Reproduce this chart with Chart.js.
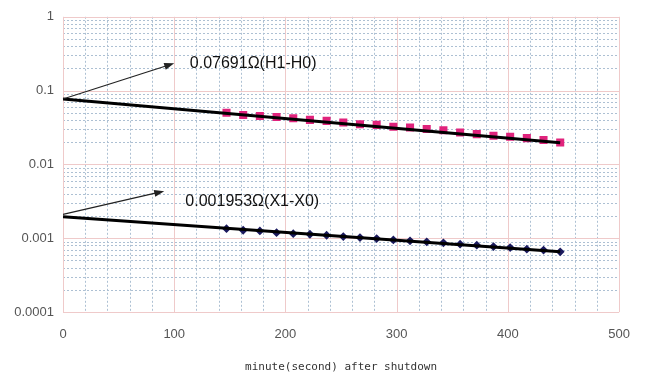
<!DOCTYPE html>
<html>
<head>
<meta charset="utf-8">
<script src="https://cdn.jsdelivr.net/npm/chart.js@4/dist/chart.umd.min.js"></script>
<style>
  html, body { margin: 0; padding: 0; background: #fff; }
  #wrap { width: 645px; height: 376px; }
</style>
</head>
<body>
<div id="wrap"><canvas id="c" width="645" height="376"></canvas></div>
<script>
// seconds after shutdown
const times = [147, 162, 177, 192, 207, 222, 237, 252, 267, 282, 297,
               312, 327, 342, 357, 372, 387, 402, 417, 432, 447];
// H1-H0 resistance (ohm)
const hValues = [0.0502, 0.0468, 0.0454, 0.0440, 0.0422, 0.0401, 0.0389, 0.0369,
                 0.0351, 0.0343, 0.0323, 0.0316, 0.0301, 0.0291, 0.0270, 0.0257,
                 0.0244, 0.0237, 0.0227, 0.0214, 0.0198];
// X1-X0 resistance (ohm)
const xValues = [0.001346, 0.001282, 0.001254, 0.001189, 0.001153, 0.001132, 0.001097,
                 0.001051, 0.001019, 0.000988, 0.000948, 0.000920, 0.000892, 0.000865,
                 0.000831, 0.000805, 0.000771, 0.000747, 0.000711, 0.000690, 0.000654];
// exponential trend lines, extrapolated back to t = 0
const hTrend = [{x: 0, y: 0.07691}, {x: 447, y: 0.0197}];
const xTrend = [{x: 0, y: 0.001953}, {x: 447, y: 0.000655}];

const yTicks = [0.0001, 0.001, 0.01, 0.1, 1];
const xTicks = [0, 100, 200, 300, 400, 500];

// callouts: arrow from -> to, label anchor (data coords)
const callouts = [
    {text: '0.07691\u03A9(H1-H0)', from: [0, 0.07691], to: [100, 0.234], at: [114, 0.234]},
    {text: '0.001953\u03A9(X1-X0)', from: [0, 0.0021], to: [91, 0.00434], at: [110, 0.00318]}
];

const gridPlugin = {
    id: 'paperGrid',
    beforeDatasetsDraw(chart) {
        const {ctx, chartArea: a, scales: {x, y}} = chart;
        ctx.save();
        ctx.fillStyle = '#ffffff';
        ctx.fillRect(a.left, a.top, a.right - a.left, a.bottom - a.top);
        // minor dashed lines
        ctx.strokeStyle = '#adc0d3';
        ctx.lineWidth = 1;
        ctx.setLineDash([2, 2]);
        ctx.beginPath();
        for (let v = 20; v < 500; v += 20) {
            if (v % 100 === 0) continue;
            const px = Math.round(x.getPixelForValue(v)) + 0.5;
            ctx.moveTo(px, a.top); ctx.lineTo(px, a.bottom);
        }
        for (let e = -4; e < 0; e++) {
            for (let k = 2; k <= 9; k++) {
                const py = Math.round(y.getPixelForValue(k * Math.pow(10, e))) + 0.5;
                ctx.moveTo(a.left, py); ctx.lineTo(a.right, py);
            }
        }
        ctx.stroke();
        // major lines
        ctx.setLineDash([]);
        ctx.strokeStyle = '#efcaca';
        ctx.beginPath();
        xTicks.forEach(v => {
            const px = Math.round(x.getPixelForValue(v)) + 0.5;
            ctx.moveTo(px, a.top); ctx.lineTo(px, a.bottom);
        });
        yTicks.forEach(v => {
            const py = Math.round(y.getPixelForValue(v)) + 0.5;
            ctx.moveTo(a.left, py); ctx.lineTo(a.right, py);
        });
        ctx.stroke();
        ctx.restore();
    },
    afterDatasetsDraw(chart) {
        const {ctx, scales: {x, y}} = chart;
        ctx.save();
        callouts.forEach(c => {
            const x0 = x.getPixelForValue(c.from[0]), y0 = y.getPixelForValue(c.from[1]);
            const x1 = x.getPixelForValue(c.to[0]), y1 = y.getPixelForValue(c.to[1]);
            const ang = Math.atan2(y1 - y0, x1 - x0);
            ctx.strokeStyle = '#222';
            ctx.fillStyle = '#222';
            ctx.lineWidth = 1.2;
            ctx.beginPath();
            ctx.moveTo(x0, y0);
            ctx.lineTo(x1 - 8 * Math.cos(ang), y1 - 8 * Math.sin(ang));
            ctx.stroke();
            ctx.beginPath();
            ctx.moveTo(x1, y1);
            ctx.lineTo(x1 - 10 * Math.cos(ang) + 3.5 * Math.sin(ang), y1 - 10 * Math.sin(ang) - 3.5 * Math.cos(ang));
            ctx.lineTo(x1 - 10 * Math.cos(ang) - 3.5 * Math.sin(ang), y1 - 10 * Math.sin(ang) + 3.5 * Math.cos(ang));
            ctx.closePath();
            ctx.fill();
            ctx.fillStyle = '#111';
            ctx.font = '16px "Liberation Sans", Arial, sans-serif';
            ctx.textBaseline = 'middle';
            ctx.textAlign = 'left';
            ctx.fillText(c.text, x.getPixelForValue(c.at[0]), y.getPixelForValue(c.at[1]));
        });
        ctx.restore();
    }
};

const tickFont = {family: '"Liberation Sans", Arial, sans-serif', size: 13};

new Chart(document.getElementById('c'), {
    type: 'scatter',
    data: {
        datasets: [
            {
                label: 'H1-H0 trend',
                data: hTrend,
                showLine: true,
                borderColor: '#000',
                borderWidth: 3,
                pointRadius: 0,
                order: 0
            },
            {
                label: 'X1-X0 trend',
                data: xTrend,
                showLine: true,
                borderColor: '#000',
                borderWidth: 3,
                pointRadius: 0,
                order: 0
            },
            {
                label: 'H1-H0',
                data: times.map((t, i) => ({x: t, y: hValues[i]})),
                pointStyle: 'rect',
                pointRadius: 5.7,
                backgroundColor: '#e0237c',
                borderColor: '#e0237c',
                borderWidth: 0,
                order: 1
            },
            {
                label: 'X1-X0',
                data: times.map((t, i) => ({x: t, y: xValues[i]})),
                pointStyle: 'rectRot',
                pointRadius: 4.4,
                backgroundColor: '#1b1a5e',
                borderColor: '#1b1a5e',
                borderWidth: 0,
                order: 1
            }
        ]
    },
    options: {
        responsive: false,
        animation: false,
        layout: {padding: {top: 15, right: 23, left: 0, bottom: 0}},
        plugins: {
            legend: {display: false},
            tooltip: {enabled: false}
        },
        scales: {
            x: {
                type: 'linear',
                min: 0,
                max: 500,
                grid: {display: false, drawTicks: false},
                border: {display: false},
                afterBuildTicks: s => { s.ticks = xTicks.map(v => ({value: v})); },
                afterFit: s => { s.height = 64; },
                ticks: {color: '#555', font: tickFont, padding: 15, autoSkip: false, maxRotation: 0},
                title: {
                    display: true,
                    text: 'minute(second) after shutdown',
                    color: '#333',
                    font: {family: '"DejaVu Sans Mono", monospace', size: 11},
                    padding: {top: 4, bottom: 2}
                }
            },
            y: {
                type: 'logarithmic',
                min: 0.0001,
                max: 1,
                grid: {display: false, drawTicks: false},
                border: {display: false},
                afterBuildTicks: s => { s.ticks = yTicks.map(v => ({value: v})); },
                afterFit: s => { s.width = 63; },
                ticks: {
                    color: '#555',
                    font: tickFont,
                    padding: 9,
                    autoSkip: false,
                    callback: v => String(v)
                }
            }
        }
    },
    plugins: [gridPlugin]
});
</script>
</body>
</html>
